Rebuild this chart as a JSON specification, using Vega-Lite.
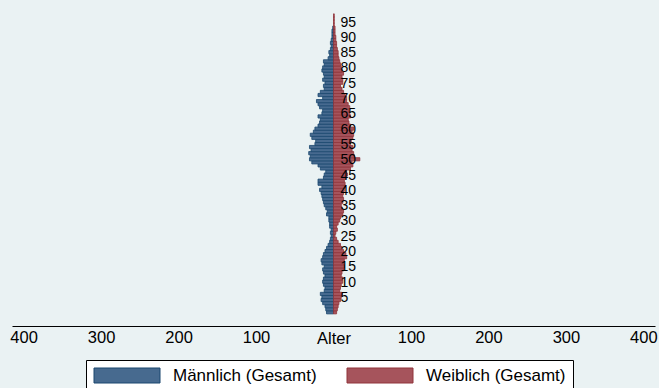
{
  "$schema": "https://vega.github.io/schema/vega-lite/v6.json",
  "width": 643,
  "height": 318,
  "autosize": {"type": "none"},
  "padding": {"left": 12, "top": 8, "right": 4, "bottom": 62},
  "background": "#eaf2f3",
  "config": {
    "view": {"stroke": null, "fill": "#eaf2f3"},
    "font": "Liberation Sans"
  },
  "datasets": {
    "pop": [
      {"age":0,"sex":"Männlich (Gesamt)","n":-9},{"age":0,"sex":"Weiblich (Gesamt)","n":4},
      {"age":1,"sex":"Männlich (Gesamt)","n":-10},{"age":1,"sex":"Weiblich (Gesamt)","n":5},
      {"age":2,"sex":"Männlich (Gesamt)","n":-11},{"age":2,"sex":"Weiblich (Gesamt)","n":6},
      {"age":3,"sex":"Männlich (Gesamt)","n":-14},{"age":3,"sex":"Weiblich (Gesamt)","n":7},
      {"age":4,"sex":"Männlich (Gesamt)","n":-16},{"age":4,"sex":"Weiblich (Gesamt)","n":9},
      {"age":5,"sex":"Männlich (Gesamt)","n":-15},{"age":5,"sex":"Weiblich (Gesamt)","n":10},
      {"age":6,"sex":"Männlich (Gesamt)","n":-17},{"age":6,"sex":"Weiblich (Gesamt)","n":11},
      {"age":7,"sex":"Männlich (Gesamt)","n":-12},{"age":7,"sex":"Weiblich (Gesamt)","n":8},
      {"age":8,"sex":"Männlich (Gesamt)","n":-11},{"age":8,"sex":"Weiblich (Gesamt)","n":9},
      {"age":9,"sex":"Männlich (Gesamt)","n":-13},{"age":9,"sex":"Weiblich (Gesamt)","n":10},
      {"age":10,"sex":"Männlich (Gesamt)","n":-14},{"age":10,"sex":"Weiblich (Gesamt)","n":12},
      {"age":11,"sex":"Männlich (Gesamt)","n":-13},{"age":11,"sex":"Weiblich (Gesamt)","n":12},
      {"age":12,"sex":"Männlich (Gesamt)","n":-11},{"age":12,"sex":"Weiblich (Gesamt)","n":10},
      {"age":13,"sex":"Männlich (Gesamt)","n":-13},{"age":13,"sex":"Weiblich (Gesamt)","n":11},
      {"age":14,"sex":"Männlich (Gesamt)","n":-14},{"age":14,"sex":"Weiblich (Gesamt)","n":13},
      {"age":15,"sex":"Männlich (Gesamt)","n":-12},{"age":15,"sex":"Weiblich (Gesamt)","n":14},
      {"age":16,"sex":"Männlich (Gesamt)","n":-15},{"age":16,"sex":"Weiblich (Gesamt)","n":13},
      {"age":17,"sex":"Männlich (Gesamt)","n":-16},{"age":17,"sex":"Weiblich (Gesamt)","n":14},
      {"age":18,"sex":"Männlich (Gesamt)","n":-14},{"age":18,"sex":"Weiblich (Gesamt)","n":17},
      {"age":19,"sex":"Männlich (Gesamt)","n":-13},{"age":19,"sex":"Weiblich (Gesamt)","n":16},
      {"age":20,"sex":"Männlich (Gesamt)","n":-11},{"age":20,"sex":"Weiblich (Gesamt)","n":13},
      {"age":21,"sex":"Männlich (Gesamt)","n":-9},{"age":21,"sex":"Weiblich (Gesamt)","n":11},
      {"age":22,"sex":"Männlich (Gesamt)","n":-7},{"age":22,"sex":"Weiblich (Gesamt)","n":9},
      {"age":23,"sex":"Männlich (Gesamt)","n":-5},{"age":23,"sex":"Weiblich (Gesamt)","n":6},
      {"age":24,"sex":"Männlich (Gesamt)","n":-4},{"age":24,"sex":"Weiblich (Gesamt)","n":4},
      {"age":25,"sex":"Männlich (Gesamt)","n":-3},{"age":25,"sex":"Weiblich (Gesamt)","n":2},
      {"age":26,"sex":"Männlich (Gesamt)","n":-4},{"age":26,"sex":"Weiblich (Gesamt)","n":3},
      {"age":27,"sex":"Männlich (Gesamt)","n":-3},{"age":27,"sex":"Weiblich (Gesamt)","n":5},
      {"age":28,"sex":"Männlich (Gesamt)","n":-5},{"age":28,"sex":"Weiblich (Gesamt)","n":4},
      {"age":29,"sex":"Männlich (Gesamt)","n":-5},{"age":29,"sex":"Weiblich (Gesamt)","n":6},
      {"age":30,"sex":"Männlich (Gesamt)","n":-6},{"age":30,"sex":"Weiblich (Gesamt)","n":8},
      {"age":31,"sex":"Männlich (Gesamt)","n":-6},{"age":31,"sex":"Weiblich (Gesamt)","n":9},
      {"age":32,"sex":"Männlich (Gesamt)","n":-9},{"age":32,"sex":"Weiblich (Gesamt)","n":12},
      {"age":33,"sex":"Männlich (Gesamt)","n":-8},{"age":33,"sex":"Weiblich (Gesamt)","n":13},
      {"age":34,"sex":"Männlich (Gesamt)","n":-10},{"age":34,"sex":"Weiblich (Gesamt)","n":11},
      {"age":35,"sex":"Männlich (Gesamt)","n":-12},{"age":35,"sex":"Weiblich (Gesamt)","n":10},
      {"age":36,"sex":"Männlich (Gesamt)","n":-13},{"age":36,"sex":"Weiblich (Gesamt)","n":12},
      {"age":37,"sex":"Männlich (Gesamt)","n":-14},{"age":37,"sex":"Weiblich (Gesamt)","n":13},
      {"age":38,"sex":"Männlich (Gesamt)","n":-15},{"age":38,"sex":"Weiblich (Gesamt)","n":12},
      {"age":39,"sex":"Männlich (Gesamt)","n":-16},{"age":39,"sex":"Weiblich (Gesamt)","n":13},
      {"age":40,"sex":"Männlich (Gesamt)","n":-18},{"age":40,"sex":"Weiblich (Gesamt)","n":14},
      {"age":41,"sex":"Männlich (Gesamt)","n":-15},{"age":41,"sex":"Weiblich (Gesamt)","n":15},
      {"age":42,"sex":"Männlich (Gesamt)","n":-20},{"age":42,"sex":"Weiblich (Gesamt)","n":15},
      {"age":43,"sex":"Männlich (Gesamt)","n":-20},{"age":43,"sex":"Weiblich (Gesamt)","n":14},
      {"age":44,"sex":"Männlich (Gesamt)","n":-13},{"age":44,"sex":"Weiblich (Gesamt)","n":16},
      {"age":45,"sex":"Männlich (Gesamt)","n":-12},{"age":45,"sex":"Weiblich (Gesamt)","n":18},
      {"age":46,"sex":"Männlich (Gesamt)","n":-10},{"age":46,"sex":"Weiblich (Gesamt)","n":17},
      {"age":47,"sex":"Männlich (Gesamt)","n":-17},{"age":47,"sex":"Weiblich (Gesamt)","n":22},
      {"age":48,"sex":"Männlich (Gesamt)","n":-20},{"age":48,"sex":"Weiblich (Gesamt)","n":25},
      {"age":49,"sex":"Männlich (Gesamt)","n":-28},{"age":49,"sex":"Weiblich (Gesamt)","n":24},
      {"age":50,"sex":"Männlich (Gesamt)","n":-31},{"age":50,"sex":"Weiblich (Gesamt)","n":34},
      {"age":51,"sex":"Männlich (Gesamt)","n":-30},{"age":51,"sex":"Weiblich (Gesamt)","n":27},
      {"age":52,"sex":"Männlich (Gesamt)","n":-32},{"age":52,"sex":"Weiblich (Gesamt)","n":26},
      {"age":53,"sex":"Männlich (Gesamt)","n":-29},{"age":53,"sex":"Weiblich (Gesamt)","n":24},
      {"age":54,"sex":"Männlich (Gesamt)","n":-31},{"age":54,"sex":"Weiblich (Gesamt)","n":25},
      {"age":55,"sex":"Männlich (Gesamt)","n":-24},{"age":55,"sex":"Weiblich (Gesamt)","n":22},
      {"age":56,"sex":"Männlich (Gesamt)","n":-23},{"age":56,"sex":"Weiblich (Gesamt)","n":23},
      {"age":57,"sex":"Männlich (Gesamt)","n":-28},{"age":57,"sex":"Weiblich (Gesamt)","n":25},
      {"age":58,"sex":"Männlich (Gesamt)","n":-30},{"age":58,"sex":"Weiblich (Gesamt)","n":26},
      {"age":59,"sex":"Männlich (Gesamt)","n":-26},{"age":59,"sex":"Weiblich (Gesamt)","n":24},
      {"age":60,"sex":"Männlich (Gesamt)","n":-24},{"age":60,"sex":"Weiblich (Gesamt)","n":26},
      {"age":61,"sex":"Männlich (Gesamt)","n":-20},{"age":61,"sex":"Weiblich (Gesamt)","n":22},
      {"age":62,"sex":"Männlich (Gesamt)","n":-18},{"age":62,"sex":"Weiblich (Gesamt)","n":20},
      {"age":63,"sex":"Männlich (Gesamt)","n":-17},{"age":63,"sex":"Weiblich (Gesamt)","n":19},
      {"age":64,"sex":"Männlich (Gesamt)","n":-20},{"age":64,"sex":"Weiblich (Gesamt)","n":22},
      {"age":65,"sex":"Männlich (Gesamt)","n":-15},{"age":65,"sex":"Weiblich (Gesamt)","n":21},
      {"age":66,"sex":"Männlich (Gesamt)","n":-14},{"age":66,"sex":"Weiblich (Gesamt)","n":20},
      {"age":67,"sex":"Männlich (Gesamt)","n":-18},{"age":67,"sex":"Weiblich (Gesamt)","n":21},
      {"age":68,"sex":"Männlich (Gesamt)","n":-20},{"age":68,"sex":"Weiblich (Gesamt)","n":19},
      {"age":69,"sex":"Männlich (Gesamt)","n":-22},{"age":69,"sex":"Weiblich (Gesamt)","n":17},
      {"age":70,"sex":"Männlich (Gesamt)","n":-14},{"age":70,"sex":"Weiblich (Gesamt)","n":17},
      {"age":71,"sex":"Männlich (Gesamt)","n":-20},{"age":71,"sex":"Weiblich (Gesamt)","n":15},
      {"age":72,"sex":"Männlich (Gesamt)","n":-17},{"age":72,"sex":"Weiblich (Gesamt)","n":13},
      {"age":73,"sex":"Männlich (Gesamt)","n":-12},{"age":73,"sex":"Weiblich (Gesamt)","n":11},
      {"age":74,"sex":"Männlich (Gesamt)","n":-13},{"age":74,"sex":"Weiblich (Gesamt)","n":9},
      {"age":75,"sex":"Männlich (Gesamt)","n":-11},{"age":75,"sex":"Weiblich (Gesamt)","n":12},
      {"age":76,"sex":"Männlich (Gesamt)","n":-14},{"age":76,"sex":"Weiblich (Gesamt)","n":12},
      {"age":77,"sex":"Männlich (Gesamt)","n":-12},{"age":77,"sex":"Weiblich (Gesamt)","n":11},
      {"age":78,"sex":"Männlich (Gesamt)","n":-13},{"age":78,"sex":"Weiblich (Gesamt)","n":13},
      {"age":79,"sex":"Männlich (Gesamt)","n":-15},{"age":79,"sex":"Weiblich (Gesamt)","n":11},
      {"age":80,"sex":"Männlich (Gesamt)","n":-14},{"age":80,"sex":"Weiblich (Gesamt)","n":10},
      {"age":81,"sex":"Männlich (Gesamt)","n":-12},{"age":81,"sex":"Weiblich (Gesamt)","n":9},
      {"age":82,"sex":"Männlich (Gesamt)","n":-13},{"age":82,"sex":"Weiblich (Gesamt)","n":8},
      {"age":83,"sex":"Männlich (Gesamt)","n":-7},{"age":83,"sex":"Weiblich (Gesamt)","n":7},
      {"age":84,"sex":"Männlich (Gesamt)","n":-5},{"age":84,"sex":"Weiblich (Gesamt)","n":6},
      {"age":85,"sex":"Männlich (Gesamt)","n":-6},{"age":85,"sex":"Weiblich (Gesamt)","n":6},
      {"age":86,"sex":"Männlich (Gesamt)","n":-4},{"age":86,"sex":"Weiblich (Gesamt)","n":5},
      {"age":87,"sex":"Männlich (Gesamt)","n":-3},{"age":87,"sex":"Weiblich (Gesamt)","n":4},
      {"age":88,"sex":"Männlich (Gesamt)","n":-4},{"age":88,"sex":"Weiblich (Gesamt)","n":4},
      {"age":89,"sex":"Männlich (Gesamt)","n":-3},{"age":89,"sex":"Weiblich (Gesamt)","n":3},
      {"age":90,"sex":"Männlich (Gesamt)","n":-2},{"age":90,"sex":"Weiblich (Gesamt)","n":3},
      {"age":91,"sex":"Männlich (Gesamt)","n":-2},{"age":91,"sex":"Weiblich (Gesamt)","n":2},
      {"age":92,"sex":"Männlich (Gesamt)","n":-2},{"age":92,"sex":"Weiblich (Gesamt)","n":2},
      {"age":93,"sex":"Männlich (Gesamt)","n":-1},{"age":93,"sex":"Weiblich (Gesamt)","n":2},
      {"age":94,"sex":"Weiblich (Gesamt)","n":1},
      {"age":95,"sex":"Weiblich (Gesamt)","n":1},
      {"age":96,"sex":"Weiblich (Gesamt)","n":1},
      {"age":97,"sex":"Weiblich (Gesamt)","n":1}
    ],
    "labels": [
      {"age":5,"label":"5"},{"age":10,"label":"10"},{"age":15,"label":"15"},{"age":20,"label":"20"},
      {"age":25,"label":"25"},{"age":30,"label":"30"},{"age":35,"label":"35"},{"age":40,"label":"40"},
      {"age":45,"label":"45"},{"age":50,"label":"50"},{"age":55,"label":"55"},{"age":60,"label":"60"},
      {"age":65,"label":"65"},{"age":70,"label":"70"},{"age":75,"label":"75"},{"age":80,"label":"80"},
      {"age":85,"label":"85"},{"age":90,"label":"90"},{"age":95,"label":"95"}
    ]
  },
  "layer": [
    {
      "data": {"name": "pop"},
      "mark": {"type": "bar", "orient": "horizontal", "size": 3.2, "strokeWidth": 0.8},
      "encoding": {
        "y": {"field": "age", "type": "quantitative",
              "scale": {"domain": [-2.85, 97.8], "nice": false, "zero": false},
              "axis": null},
        "x": {"field": "n", "type": "quantitative", "stack": null,
              "scale": {"domain": [-415, 415], "nice": false},
              "axis": {
                "values": [-400, -300, -200, -100, 100, 200, 300, 400],
                "labelExpr": "format(abs(datum.value), 'd')",
                "ticks": false, "grid": false,
                "labelPadding": 3, "labelFontSize": 16.5, "labelColor": "black",
                "domainColor": "black", "domainWidth": 1,
                "title": "Alter", "titleFontSize": 16.5, "titleFontWeight": "normal",
                "titleColor": "black", "titlePadding": -15
              }},
        "fill": {"field": "sex", "type": "nominal",
                 "scale": {"domain": ["Männlich (Gesamt)", "Weiblich (Gesamt)"], "range": ["#476a8f", "#a6545c"]},
                 "legend": {
                   "orient": "none", "legendX": 74, "legendY": 352, "direction": "horizontal",
                   "title": null, "fillColor": "white", "strokeColor": "black", "padding": 7,
                   "labelFontSize": 17, "labelColor": "black", "labelOffset": 63, "columnPadding": 28,
                   "symbolType": "M-1,-1H7.8V1H-1Z", "symbolSize": 225, "symbolStrokeWidth": 1,
                   "symbolOpacity": 1
                 }},
        "stroke": {"field": "sex", "type": "nominal",
                   "scale": {"domain": ["Männlich (Gesamt)", "Weiblich (Gesamt)"], "range": ["#1a476f", "#90353b"]},
                   "legend": {
                   "orient": "none", "legendX": 74, "legendY": 352, "direction": "horizontal",
                   "title": null, "fillColor": "white", "strokeColor": "black", "padding": 7,
                   "labelFontSize": 17, "labelColor": "black", "labelOffset": 63, "columnPadding": 28,
                   "symbolType": "M-1,-1H7.8V1H-1Z", "symbolSize": 225, "symbolStrokeWidth": 1,
                   "symbolOpacity": 1
                 }}
      }
    },
    {
      "data": {"name": "labels"},
      "mark": {"type": "text", "align": "left", "baseline": "middle", "dx": 7, "dy": 1, "fontSize": 14, "color": "black"},
      "encoding": {
        "y": {"field": "age", "type": "quantitative"},
        "x": {"datum": 0},
        "text": {"field": "label"}
      }
    }
  ]
}
